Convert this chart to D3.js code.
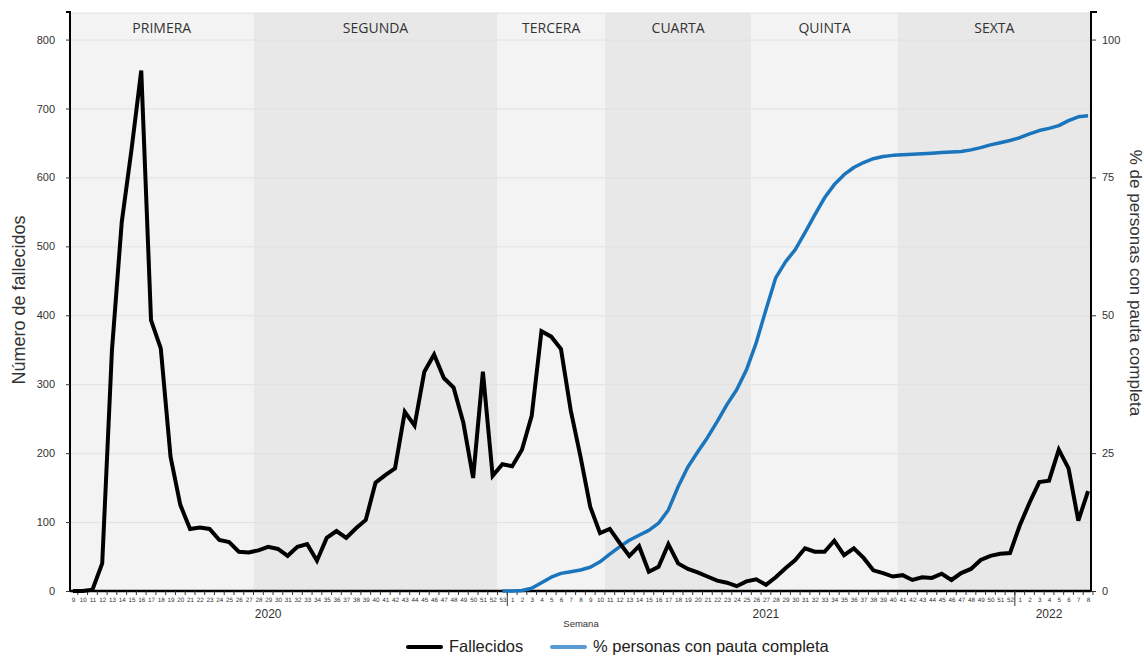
<!DOCTYPE html>
<html>
<head>
<meta charset="utf-8">
<script src="https://cdn.jsdelivr.net/npm/d3@7"></script>
<style>
  html, body { margin: 0; padding: 0; background: #ffffff; }
  svg { display: block; }
</style>
</head>
<body>
<svg id="chart" width="1144" height="656"></svg>
<script>
// ---------------- DATA ----------------
const weeks2020 = [9,10,11,12,13,14,15,16,17,18,19,20,21,22,23,24,25,26,27,28,29,30,31,32,33,34,35,36,37,38,39,40,41,42,43,44,45,46,47,48,49,50,51,52,53];
const weeks2021 = [1,2,3,4,5,6,7,8,9,10,11,12,13,14,15,16,17,18,19,20,21,22,23,24,25,26,27,28,29,30,31,32,33,34,35,36,37,38,39,40,41,42,43,44,45,46,47,48,49,50,51,52];
const weeks2022 = [1,2,3,4,5,6,7,8];

const deaths2020 = [0,0,2,40,350,535,640,755,393,352,195,125,90,92,90,74,71,57,56,59,64,61,51,64,68,44,77,87,77,91,103,157,168,178,260,240,318,343,309,295,244,164,318,167,184];
const deaths2021 = [181,205,254,377,369,351,262,195,122,84,90,70,51,65,28,35,68,40,32,27,21,15,12,7,14,17,9,20,33,45,62,57,57,73,52,62,48,30,26,21,23,16,20,19,25,16,26,32,45,51,54,55];
const deaths2022 = [95,128,158,160,205,178,102,145];

// % personas con pauta completa (starts at 2020 week 53)
const vacc2020 = [null,null,null,null,null,null,null,null,null,null,null,null,null,null,null,null,null,null,null,null,null,null,null,null,null,null,null,null,null,null,null,null,null,null,null,null,null,null,null,null,null,null,null,null,0];
const vacc2021 = [0,0.1,0.5,1.5,2.5,3.2,3.5,3.8,4.3,5.3,6.7,8,9.2,10.1,11,12.3,14.7,18.9,22.5,25.2,27.8,30.7,33.8,36.5,40.1,45,51,56.8,59.7,61.9,65,68.2,71.3,73.7,75.5,76.8,77.7,78.4,78.8,79,79.1,79.2,79.3,79.4,79.5,79.6,79.7,80,80.4,80.9,81.3,81.7];
const vacc2022 = [82.2,82.9,83.5,83.9,84.4,85.3,86,86.2];

const waveNames = ["PRIMERA","SEGUNDA","TERCERA","CUARTA","QUINTA","SEXTA"];
const waveStart = ["2020-9","2020-28","2020-53","2021-11","2021-26","2021-41"];
const waveEnd   = ["2020-27","2020-52","2021-10","2021-25","2021-40","2022-8"];

const yearNames = ["2020","2021","2022"];
const yearLabelAt = ["2020-29","2021-27","2022-4"];
const yearBreaks = ["2020-53","2021-52"];

const leftTicks = [0,100,200,300,400,500,600,700,800];
const rightTicks = [0,25,50,75,100];

const seriesNames = ["Fallecidos","% personas con pauta completa"];
const seriesColors = ["#000000","#1a75bc"];
const legendColors = ["#000000","#5b9bd5"];

// ---------------- BUILD ----------------
const rows = [];
weeks2020.forEach((w,i)=>rows.push({key:"2020-"+w, week:w, deaths:deaths2020[i], vacc:vacc2020[i]}));
weeks2021.forEach((w,i)=>rows.push({key:"2021-"+w, week:w, deaths:deaths2021[i], vacc:vacc2021[i]}));
weeks2022.forEach((w,i)=>rows.push({key:"2022-"+w, week:w, deaths:deaths2022[i], vacc:vacc2022[i]}));

const svg = d3.select("#chart");
const L = 70, R = 1091, T = 12, B = 591;
const font = "'Liberation Sans', Arial, sans-serif";

const x = d3.scalePoint().domain(rows.map(d=>d.key)).range([L, R]).padding(0.3);
const step = x.step();
const y = d3.scaleLinear().domain([0, 840]).range([B, T]);
const y2 = d3.scaleLinear().domain([0, 105]).range([B, T]);

// bands
const bandTop = 13;
waveNames.forEach((name,i)=>{
  const x0 = Math.max(L, x(waveStart[i]) - step/2);
  const x1 = Math.min(R, x(waveEnd[i]) + step/2);
  svg.append("rect").attr("x", x0).attr("y", bandTop).attr("width", x1-x0).attr("height", B-bandTop)
    .attr("fill", i%2===0 ? "#f3f3f3" : "#e8e8e8");
  svg.append("text").attr("x",(x0+x1)/2).attr("y",33).attr("text-anchor","middle")
    .attr("font-family","'Open Sans', sans-serif").attr("font-size",14).attr("fill","#333")
    .text(name);
});
svg.append("line").attr("x1",L).attr("x2",R).attr("y1",bandTop).attr("y2",bandTop).attr("stroke","#e0e0e0");

// gridlines
svg.append("g").selectAll("line").data(leftTicks.filter(t=>t>0)).join("line")
  .attr("x1",L).attr("x2",R).attr("y1",d=>y(d)+0.5).attr("y2",d=>y(d)+0.5)
  .attr("stroke","#e1e1e1").attr("stroke-width",1);

// left axis
const gl = svg.append("g").attr("transform",`translate(${L},0)`)
  .call(d3.axisLeft(y).tickValues(leftTicks).tickSize(4).tickPadding(11));
gl.select(".domain").attr("stroke","#000").attr("stroke-width",2).attr("d",`M-4,${T}H0V${B}`);
gl.selectAll(".tick line").attr("stroke","#333");
gl.selectAll("text").attr("font-family",font).attr("font-size",11).attr("fill","#333");

// right axis
const gr = svg.append("g").attr("transform",`translate(${R},0)`)
  .call(d3.axisRight(y2).tickValues(rightTicks).tickSize(5).tickPadding(6));
gr.select(".domain").attr("stroke","#000").attr("stroke-width",2).attr("d",`M6,${T}H0V${B}`);
gr.selectAll(".tick line").attr("stroke","#333");
gr.selectAll("text").attr("font-family",font).attr("font-size",11).attr("fill","#333");

// bottom axis
const gb = svg.append("g").attr("transform",`translate(0,${B})`)
  .call(d3.axisBottom(x).tickSize(0).tickPadding(7).tickFormat(k=>k.split("-")[1]));
gb.select(".domain").attr("stroke","#000").attr("stroke-width",2.5).attr("d",`M${L},0H${R}`);
gb.selectAll("text").attr("font-family",font).attr("font-size",6.3).attr("fill","#333")
  .style("text-rendering","geometricPrecision");
// small between-category ticks
svg.append("g").selectAll("line").data(rows).join("line")
  .attr("x1",d=>x(d.key)+step/2).attr("x2",d=>x(d.key)+step/2)
  .attr("y1",B).attr("y2",B+4).attr("stroke","#333").attr("stroke-width",1);
// year separators
svg.append("g").selectAll("line").data(yearBreaks).join("line")
  .attr("x1",d=>x(d)+step/2).attr("x2",d=>x(d)+step/2)
  .attr("y1",B).attr("y2",B+15).attr("stroke","#333").attr("stroke-width",1);
// year labels
svg.append("g").selectAll("text").data(yearNames).join("text")
  .attr("x",(d,i)=>x(yearLabelAt[i])).attr("y",618).attr("text-anchor","middle")
  .attr("font-family",font).attr("font-size",12).attr("fill","#333").text(d=>d);
svg.append("text").attr("x",581).attr("y",627).attr("text-anchor","middle")
  .attr("font-family",font).attr("font-size",9.5).attr("fill","#333").text("Semana");

// axis titles
svg.append("text").attr("transform","translate(25,300) rotate(-90)").attr("text-anchor","middle")
  .attr("font-family",font).attr("font-size",18).attr("fill","#333").text("Número de fallecidos");
svg.append("text").attr("transform","translate(1130,283) rotate(90)").attr("text-anchor","middle")
  .attr("font-family",font).attr("font-size",17).attr("fill","#333").text("% de personas con pauta completa");

// lines
const lineDeaths = d3.line().x(d=>x(d.key)).y(d=>y(d.deaths));
const lineVacc = d3.line().defined(d=>d.vacc!==null).x(d=>x(d.key)).y(d=>y2(d.vacc));
svg.append("path").datum(rows).attr("d",lineVacc).attr("fill","none")
  .attr("stroke",seriesColors[1]).attr("stroke-width",3.5).attr("stroke-linejoin","round");
svg.append("path").datum(rows).attr("d",lineDeaths).attr("fill","none")
  .attr("stroke",seriesColors[0]).attr("stroke-width",4).attr("stroke-linejoin","miter");

// legend
const legX = [408, 552];
seriesNames.forEach((n,i)=>{
  svg.append("line").attr("x1",legX[i]).attr("x2",legX[i]+33).attr("y1",647).attr("y2",647)
    .attr("stroke",legendColors[i]).attr("stroke-width",4).attr("stroke-linecap","round");
  svg.append("text").attr("x",legX[i]+41).attr("y",652).attr("font-family",font)
    .attr("font-size",16.5).attr("fill","#222").text(n);
});
</script>
</body>
</html>
